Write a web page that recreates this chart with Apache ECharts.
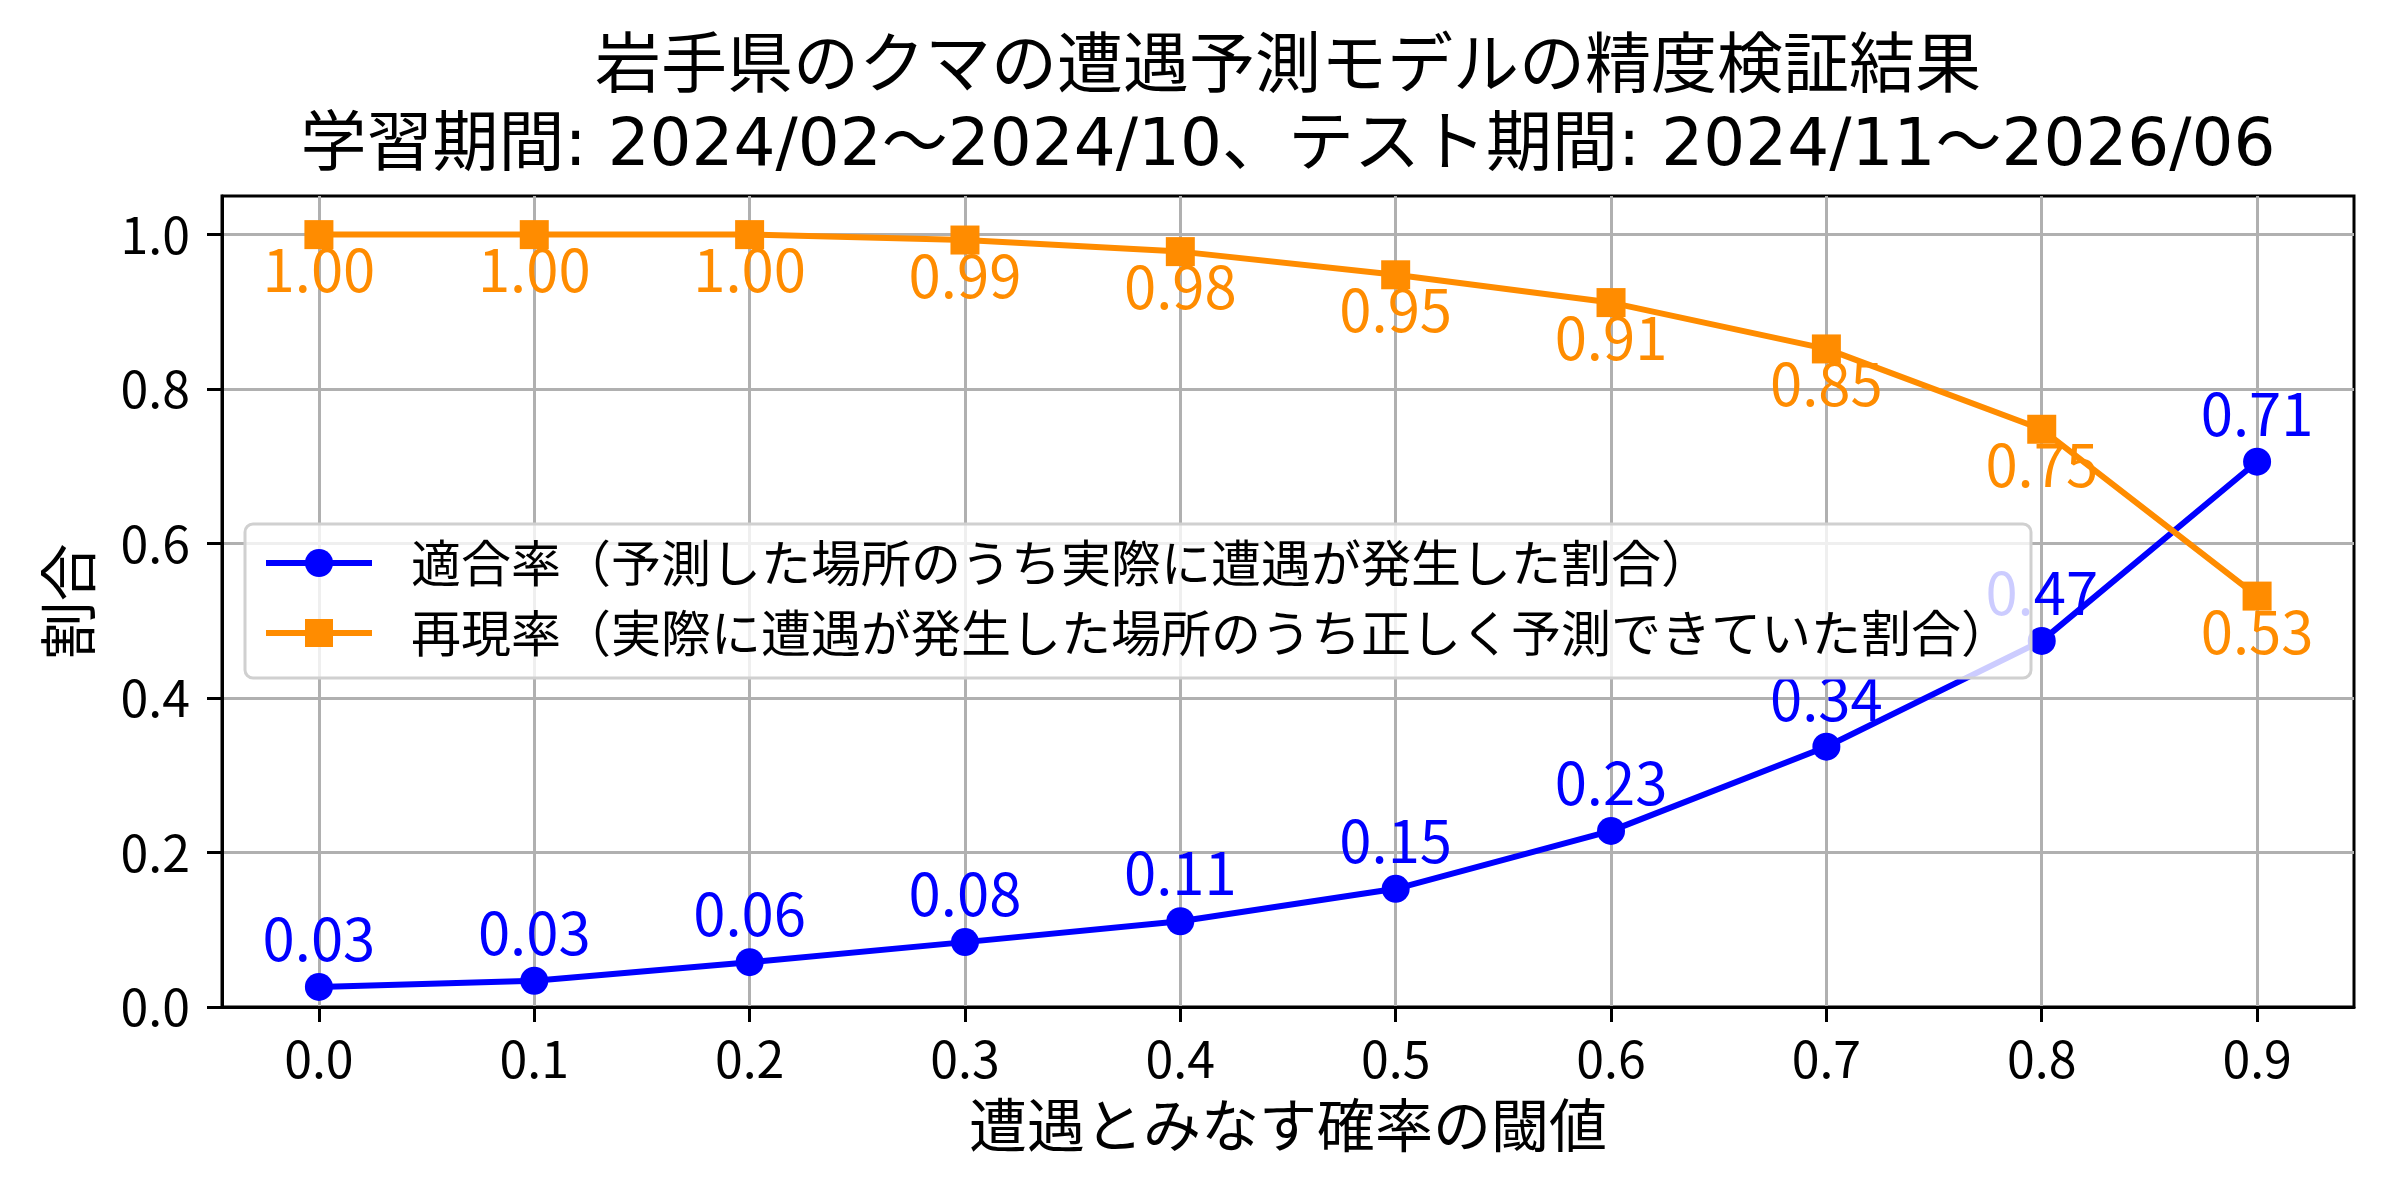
<!DOCTYPE html>
<html lang="ja">
<head>
  <meta charset="UTF-8">
  <title>岩手県のクマの遭遇予測モデルの精度検証結果</title>
  <script src="https://cdn.jsdelivr.net/npm/echarts@6/dist/echarts.min.js"></script>
  <style>
    html, body { margin: 0; padding: 0; background: #fff; }
  </style>
</head>
<body>
  <!-- Chart container -->
  <div id="main" style="width: 2400px; height: 1200px;"></div>

  <script>
    // Thresholds and scores
    const thresholds = [0.0, 0.1, 0.2, 0.3, 0.4, 0.5, 0.6, 0.7, 0.8, 0.9];
    const precision = [0.026, 0.034, 0.058, 0.084, 0.111, 0.153, 0.228, 0.337, 0.474, 0.706];
    const recall = [1.0, 1.0, 1.0, 0.993, 0.978, 0.948, 0.912, 0.852, 0.748, 0.532];

    const xTicks = [0.0, 0.1, 0.2, 0.3, 0.4, 0.5, 0.6, 0.7, 0.8, 0.9];
    const yTicks = [0.0, 0.2, 0.4, 0.6, 0.8, 1.0];

    const precisionName = '適合率（予測した場所のうち実際に遭遇が発生した割合）';
    const recallName = '再現率（実際に遭遇が発生した場所のうち正しく予測できていた割合）';

    const FONT = '"Noto Sans CJK JP", "Noto Sans", sans-serif';
    const TITLE_FONT = '"DejaVu Sans", "Noto Sans CJK JP", sans-serif';

    let myChart = echarts.init(document.getElementById('main'));

    // pair each threshold with its score
    const toPoints = vals => thresholds.map((t, i) => [t, vals[i]]);

    const options = {
      animation: false,
      textStyle: { fontFamily: FONT },
      title: {
        text: '岩手県のクマの遭遇予測モデルの精度検証結果\n学習期間: 2024/02〜2024/10、テスト期間: 2024/11〜2026/06',
        left: 1288,
        textAlign: 'center',
        top: 31,
        padding: 0,
        textStyle: {
          fontFamily: TITLE_FONT,
          fontSize: 66,
          lineHeight: 78,
          fontWeight: 'normal',
          color: '#000'
        }
      },
      legend: {
        orient: 'vertical',
        left: 245,
        top: 524,
        padding: [14, 20, 20, 18],
        itemGap: 20,
        itemWidth: 106,
        itemHeight: 35,
        backgroundColor: 'rgba(255,255,255,0.8)',
        borderColor: '#d0d0d0',
        borderWidth: 3,
        borderRadius: 8,
        lineStyle: { width: 6 },
        textStyle: {
          fontFamily: FONT,
          fontSize: 50,
          lineHeight: 50,
          color: '#000',
          padding: [0, 0, 0, 34]
        },
        data: [precisionName, recallName]
      },
      grid: {
        left: 222,
        right: 46,
        top: 196,
        bottom: 193,
        show: true,
        borderColor: '#000',
        borderWidth: 3,
        backgroundColor: 'transparent'
      },
      xAxis: {
        type: 'value',
        min: -0.045,
        max: 0.945,
        name: '遭遇とみなす確率の閾値',
        nameLocation: 'middle',
        nameGap: 89,
        nameTextStyle: { fontFamily: FONT, fontSize: 58, color: '#000' },
        axisLine: { show: true, onZero: false, lineStyle: { color: '#000', width: 3 } },
        axisTick: { show: true, inside: false, length: 15, customValues: xTicks, lineStyle: { color: '#000', width: 3 } },
        axisLabel: {
          customValues: xTicks,
          margin: 27,
          fontFamily: FONT,
          fontSize: 50,
          lineHeight: 50,
          color: '#000',
          formatter: v => v.toFixed(1)
        },
        splitLine: { show: true, lineStyle: { color: '#b0b0b0', width: 3 } }
      },
      yAxis: {
        type: 'value',
        min: 0,
        max: 1.05,
        name: '割合',
        nameLocation: 'middle',
        nameRotate: 90,
        nameGap: 125,
        nameTextStyle: { fontFamily: FONT, fontSize: 58, color: '#000' },
        axisLine: { show: true, onZero: false, lineStyle: { color: '#000', width: 3 } },
        axisTick: { show: true, inside: false, length: 15, customValues: yTicks, lineStyle: { color: '#000', width: 3 } },
        axisLabel: {
          customValues: yTicks,
          margin: 32,
          fontFamily: FONT,
          fontSize: 50,
          color: '#000',
          formatter: v => v.toFixed(1)
        },
        splitLine: { show: true, lineStyle: { color: '#b0b0b0', width: 3 } }
      },
      series: [
        {
          name: precisionName,
          type: 'line',
          data: toPoints(precision),
          symbol: 'circle',
          symbolSize: 28,
          color: '#0000ff',
          lineStyle: { width: 6, color: '#0000ff' },
          itemStyle: { color: '#0000ff' },
          label: {
            show: true,
            position: 'top',
            distance: 5,
            fontFamily: FONT,
            fontSize: 58,
            lineHeight: 58,
            color: '#0000ff',
            formatter: p => p.value[1].toFixed(2)
          },
          z: 3
        },
        {
          name: recallName,
          type: 'line',
          data: toPoints(recall),
          symbol: 'rect',
          symbolSize: 29,
          color: '#ff8c00',
          lineStyle: { width: 6, color: '#ff8c00' },
          itemStyle: { color: '#ff8c00' },
          label: {
            show: true,
            position: 'bottom',
            distance: 0,
            offset: [0, -8],
            fontFamily: FONT,
            fontSize: 58,
            lineHeight: 58,
            color: '#ff8c00',
            formatter: p => p.value[1].toFixed(2)
          },
          z: 3
        }
      ]
    };

    myChart.setOption(options);
  </script>
</body>
</html>
